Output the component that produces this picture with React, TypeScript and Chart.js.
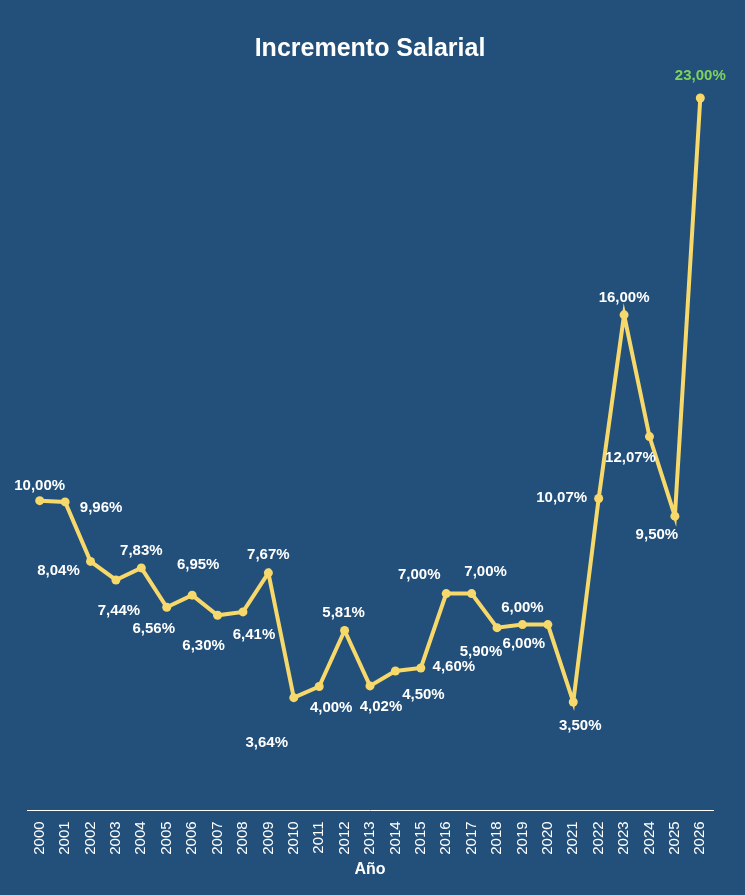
import React, { useEffect, useRef } from "react";
import { Chart, registerables } from "chart.js";
Chart.register(...registerables);

const years = ["2000","2001","2002","2003","2004","2005","2006","2007","2008","2009","2010","2011","2012","2013","2014","2015","2016","2017","2018","2019","2020","2021","2022","2023","2024","2025","2026"];
const increments = [10.0,9.96,8.04,7.44,7.83,6.56,6.95,6.3,6.41,7.67,3.64,4.0,5.81,4.02,4.5,4.6,7.0,7.0,5.9,6.0,6.0,3.5,10.07,16.0,12.07,9.5,23.0];
// label placement offsets (px) — styling only
const labelDx = [0,36,-32,3,0,-13,6,-14,11,0,-27,12,-1,11,28,33,-27,14,-16,0,-24,7,-37,0,-19,-18,0];
const labelDy = [-15,6,9,31,-17,22,-30,31,23,-18,45,21,-18,21,24,-1,-19,-22,24,-17,19,24,-1,-17,21,19,-22];

const BG = "#22507a";
const FONT = "'Liberation Sans Narrow', 'Liberation Sans', Arial, sans-serif";

const labelPlugin = {
  id: "pointLabels",
  afterDatasetsDraw(chart: any) {
    const ctx = chart.ctx;
    const meta = chart.getDatasetMeta(0);
    ctx.save();
    ctx.font = `bold 15px ${FONT}`;
    ctx.textAlign = "center";
    ctx.textBaseline = "middle";
    meta.data.forEach((pt: any, i: number) => {
      const last = i === increments.length - 1;
      ctx.fillStyle = last ? "#7fd35a" : "#ffffff";
      const txt = increments[i].toFixed(2).replace(".", ",") + "%";
      ctx.fillText(txt, pt.x + labelDx[i], pt.y + labelDy[i]);
    });
    ctx.restore();
  },
};

const bgPlugin = {
  id: "bg",
  beforeDraw(chart: any) {
    const ctx = chart.ctx;
    ctx.save();
    ctx.fillStyle = BG;
    ctx.fillRect(0, 0, chart.width, chart.height);
    ctx.restore();
  },
};

export default function App() {
  const ref = useRef<HTMLCanvasElement>(null);
  useEffect(() => {
    document.body.style.margin = "0";
    const chart = new Chart(ref.current!, {
      type: "line",
      data: {
        labels: years,
        datasets: [{
          data: increments,
          borderColor: "#f7d86a",
          backgroundColor: "#f7d86a",
          borderWidth: 4,
          pointRadius: 4.5,
          pointBackgroundColor: "#f7d86a",
          pointBorderWidth: 0,
          tension: 0,
          clip: false as any,
        }],
      },
      options: {
        animation: false,
        responsive: false,
        maintainAspectRatio: false,
        layout: { padding: { left: 27, right: 32, top: 0, bottom: 12 } },
        plugins: {
          legend: { display: false },
          tooltip: { enabled: false },
          title: {
            display: true,
            text: "Incremento Salarial",
            color: "#ffffff",
            font: { family: FONT, size: 25, weight: "bold" },
            padding: { top: 34, bottom: 34 },
          },
        },
        scales: {
          x: {
            offset: true,
            grid: { display: false, drawOnChartArea: false, drawTicks: true, tickLength: 8, color: "#ffffff" } as any,
            border: { display: true, color: "#ffffff", width: 1 },
            ticks: { color: "#ffffff", maxRotation: 90, minRotation: 90, autoSkip: false, font: { family: FONT, size: 15 } },
            title: { display: true, text: "Año", color: "#ffffff", font: { family: FONT, size: 16, weight: "bold" }, padding: { top: 2 } },
          },
          y: {
            display: false,
            min: 0,
            max: 23,
          },
        },
      },
      plugins: [bgPlugin, labelPlugin],
    });
    return () => chart.destroy();
  }, []);
  return <canvas ref={ref} width={745} height={895} style={{ display: "block" }} />;
}
